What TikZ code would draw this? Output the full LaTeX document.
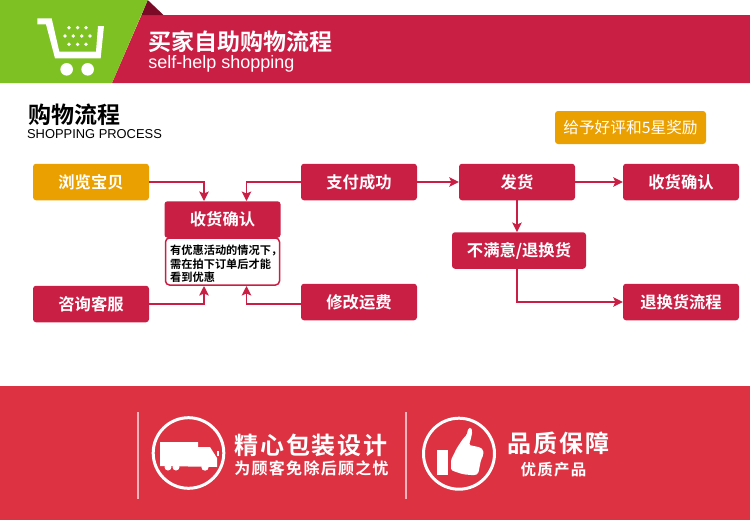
\documentclass[tikz,border=0pt]{standalone}
\usepackage{fontspec}
\setmainfont{Liberation Sans}
\newfontfamily\cjk{Noto Sans CJK SC}
\newfontfamily\cjkb{Noto Sans CJK SC Bold}
\newfontfamily\cjkbs[LetterSpace=8]{Noto Sans CJK SC Bold}
\definecolor{crimson}{HTML}{C91F45}
\definecolor{deepred}{HTML}{7A0A25}
\definecolor{leaf}{HTML}{7DC122}
\definecolor{amber}{HTML}{EAA000}
\definecolor{bandred}{HTML}{DC3242}
\definecolor{rulepink}{HTML}{F2B5BB}
\usetikzlibrary{arrows.meta,calc}
\tikzset{
  x=1pt,y=-1pt,
  flowbox/.style={draw=none,fill=crimson,rounded corners=3pt,minimum width=116pt,minimum height=36.5pt,inner sep=0pt,text=white,font=\cjkb\fontsize{16.3}{18}\selectfont},
  amberbox/.style={flowbox,fill=amber},
  flow/.style={draw=crimson,line width=1.5pt,-{Stealth[length=9.5pt,width=9.5pt,inset=2pt]}},
  band/.style={text=white,inner sep=0pt},
}
\begin{document}
\begin{tikzpicture}
\useasboundingbox (0,0) rectangle (750,520);
% banner
\fill[crimson] (112,83) -- (141.5,15) -- (750,15) -- (750,83) -- cycle;
\fill[deepred] (147.7,0) -- (163.5,15) -- (141.5,15) -- cycle;
\fill[leaf] (0,0) -- (147.7,0) -- (112,83) -- (0,83) -- cycle;
% cart
\begin{scope}[shift={(30,10)},x=0.3333pt,y=-0.3333pt]
\fill[white] (22,25) -- (65,25) -- (88,125) -- (198,125) -- (204,48) -- (222,48) -- (212,145) -- (75,145) -- (48,43) -- (22,43) -- cycle;
\fill[white] (110,178) circle (6.3pt) (173,178) circle (6.3pt);
\foreach \px/\py in {117/53,143/53,168/53,105/78,130/78,155/78,180/78,117/103,143/103,168/103}
  \fill[white] (\px,\py) circle (1.9pt);
\end{scope}
\node[band,font=\cjkb\fontsize{23}{25}\selectfont] (title) at (240.5,41.5) {买家自助购物流程};
\node[band,font=\fontsize{18}{20}\selectfont] (subtitle) at (221.5,64) {self-help shopping};
\node[inner sep=0pt,text=black,font=\cjkb\fontsize{23}{25}\selectfont] (head) at (74.5,115) {购物流程};
\node[inner sep=0pt,text=black,font=\fontsize{12.9}{15}\selectfont] (headen) at (94.5,134) {SHOPPING PROCESS};
% nodes
\node[amberbox,minimum width=151pt,minimum height=33pt,font=\cjk\fontsize{15.7}{18}\selectfont] (reward) at (630.5,127.5) {给予好评和5星奖励};
\node[amberbox] (browse) at (91,182) {浏览宝贝};
\node[flowbox] (consult) at (91,304) {咨询客服};
\node[flowbox] (pay) at (359,182) {支付成功};
\node[flowbox] (ship) at (517,182) {发货};
\node[flowbox] (recv) at (681,182) {收货确认};
\node[flowbox,minimum width=134pt] (unsat) at (519,250.5) {不满意/退换货};
\node[flowbox] (fee) at (359,302) {修改运费};
\node[flowbox] (ret) at (681,302) {退换货流程};
\node[draw=crimson,line width=1.5pt,fill=white,rounded corners=4pt,minimum width=114pt,minimum height=47pt,inner sep=0pt] (note) at (222.5,261.5) {};
\node[flowbox] (confirm) at (222.5,219.5) {收货确认};
\node[anchor=west,inner sep=0pt,text=black,align=left,font=\cjkb\fontsize{11.2}{13.6}\selectfont] (notetext) at (170,264) {有优惠活动的情况下，\\需在拍下订单后才能\\看到优惠};
% connectors
\coordinate (in1) at (204,201);
\coordinate (in2) at (246.5,201);
\coordinate (in3) at (204,286);
\coordinate (in4) at (246.5,286);
\coordinate (feeout) at ($(fee.west)+(0,2)$);
\draw[flow] (browse.east) -| (in1);
\draw[flow] (pay.west) -| (in2);
\draw[flow] (consult.east) -| (in3);
\draw[flow] (feeout) -| (in4);
\draw[flow] (pay.east) -- (ship.west);
\draw[flow] (ship.east) -- (recv.west);
\draw[flow] (ship.south) -- (unsat.north -| ship.south);
\draw[flow] (unsat.south -| ship.south) |- (ret.west);
% lower band
\fill[bandred] (0,386) rectangle (750,520);
\draw[rulepink,line width=1.4pt] (138,412) -- (138,499);
\draw[rulepink,line width=1.4pt] (406,412) -- (406,499);
% truck badge
\draw[white,line width=3pt] (188.5,453) circle (35.3pt);
\fill[white] (160,442) -- (198,442) -- (198,447) -- (210,447) -- (217,458) -- (217,467) -- (160,466) -- cycle;
\fill[white] (168,467) circle (3.5pt) (176,467) circle (3.5pt) (205,467) circle (3.7pt);
\fill[white] (217,451) rectangle (219,456);
\node[band,font=\cjkbs\fontsize{24}{26}\selectfont] (packt) at (311,445) {精心包装设计};
\node[band,font=\cjkbs\fontsize{16}{18}\selectfont] (packs) at (311.5,468) {为顾客免除后顾之忧};
% thumb badge
\draw[white,line width=3pt] (459,453.7) circle (35.5pt);
\fill[white] (437.3,450) rectangle (448.3,475);
\begin{scope}[shift={(415,410)},x=0.3333pt,y=-0.3333pt]
\fill[white,rounded corners=1.5pt] (108,150) -- (125,115) -- (145,85) -- (155,75) -- (160,55) -- (168,52) -- (172,65) -- (168,85) -- (162,105) -- (195,112) -- (205,120) -- (205,135) -- (198,150) -- (190,190) -- (180,196) -- (145,193) -- (120,185) -- (108,180) -- cycle;
\end{scope}
\node[band,font=\cjkbs\fontsize{24}{26}\selectfont] (qualt) at (558.5,443) {品质保障};
\node[band,font=\cjkbs\fontsize{15.5}{18}\selectfont] (quals) at (553.5,470) {优质产品};
\end{tikzpicture}
\end{document}
